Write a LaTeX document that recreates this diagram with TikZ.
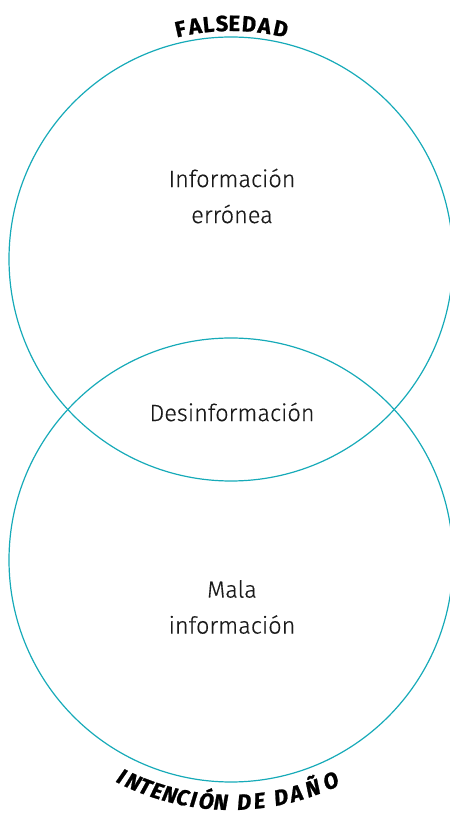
\documentclass[tikz,border=0pt]{standalone}
\usepackage{fontspec}
\setmainfont{Fira Sans}[UprightFont={* Light}, FakeBold=0.5]
\newfontfamily\titlefont{Fira Sans}[FakeBold=1]
\usepackage{xcolor}
\usepackage{tikz}
\usetikzlibrary{positioning, calc}
\definecolor{tealline}{RGB}{22,170,184}
\definecolor{inkgray}{RGB}{26,26,26}
\tikzset{
  setcircle/.style={circle, draw=tealline, line width=1.2pt, minimum size=444pt, inner sep=0pt, outer sep=0pt},
  setlabel/.style={text=inkgray, font=\fontsize{23.5}{36}\selectfont, align=center},
  toplabel/.style={text=black, font=\titlefont\fontsize{22}{24}\selectfont\bfseries, anchor=base, inner sep=0pt},
  botlabel/.style={text=black, font=\titlefont\fontsize{22}{24}\selectfont\bfseries\itshape, anchor=base, inner sep=0pt}
}
\begin{document}
\begin{tikzpicture}[x=1pt, y=1pt]
        \useasboundingbox (0,0) rectangle (450,817);
        % Circles
        \node (falsedad) [setcircle] at (231,558) {};
        \node (dano) [setcircle] at (231,257) {};

        % Texts
        \node (erronea) [setlabel] at (232,621) {Información\\errónea};
        \node (desinfo) [setlabel] at (232,405) {Desinformación};
        \node (mala) [setlabel] at (232,210) {Mala\\información};

        % Curved titles
        \foreach \ch/\a [count=\i] in {F/102.4, A/98.8, L/95.5, S/92.2, E/89.2, D/85.6, A/81.8, D/77.8}
          \node (ft\i) [toplabel, rotate=\a-90] at ($(falsedad.center)+(\a:228pt)$) {\ch};
        \foreach \ch/\a [count=\i] in {I/243.18, N/246.27, T/249.29, E/252.25, N/255.40, C/258.51, I/261.11, Ó/264.17, N/267.60, D/273.10, E/276.70, D/281.90, A/285.60, Ñ/289.70, O/294.30}
          \node (it\i) [botlabel, rotate=\a-270] at ($(dano.center)+(\a:250pt)$) {\ch};
\end{tikzpicture}
\end{document}
